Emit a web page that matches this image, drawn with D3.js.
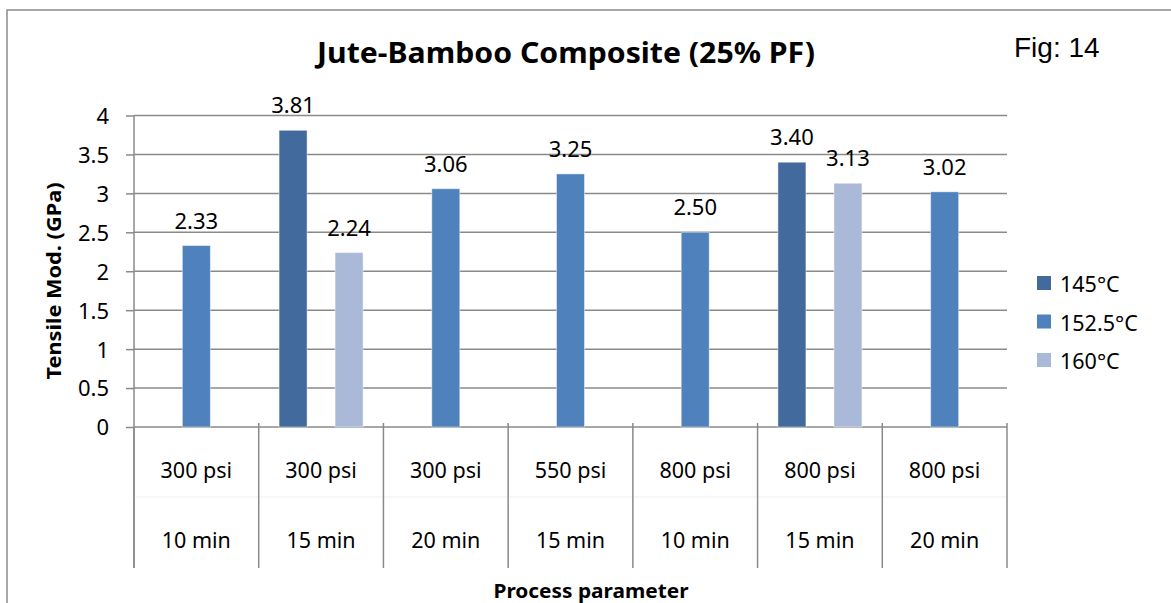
<!DOCTYPE html>
<html>
<head>
<meta charset="utf-8">
<script src="https://cdn.jsdelivr.net/npm/d3@7"></script>
<style>
  html, body { margin: 0; padding: 0; background: #fff; }
  svg { display: block; }
  text { font-family: "Noto Sans", "Open Sans", sans-serif; fill: #000; }
</style>
</head>
<body>
<svg id="chart" width="1171" height="603"></svg>
<script>
// Process parameters (two-line category labels)
const pressures = ["300 psi", "300 psi", "300 psi", "550 psi", "800 psi", "800 psi", "800 psi"];
const durations = ["10 min", "15 min", "20 min", "15 min", "10 min", "15 min", "20 min"];

// Tensile modulus (GPa) per curing temperature; null = not tested
const seriesNames = ["145°C", "152.5°C", "160°C"];
const t145  = [null, 3.81, null, null, null, 3.40, null];
const t1525 = [2.33, null, 3.06, 3.25, 2.50, null, 3.02];
const t160  = [null, 2.24, null, null, null, 3.13, null];

const yTicks = [0, 0.5, 1, 1.5, 2, 2.5, 3, 3.5, 4];
const colors = ["#426A9C", "#4F81BD", "#AAB9D7"];

const svg = d3.select("#chart");
const W = 1171, H = 603;

const plot = { left: 134, right: 1007, top: 115.5, bottom: 427 };
const catBottom = 568;

const categories = pressures.map((p, i) => i);
const seriesData = [t145, t1525, t160];

const x = d3.scaleBand().domain(categories).range([plot.left, plot.right]).padding(0);
const xs = d3.scaleBand().domain(seriesNames).range([-42, 42]).padding(0);
const y = d3.scaleLinear().domain([0, 4]).range([plot.bottom, plot.top]);

// Outer chart frame
svg.append("rect")
  .attr("x", 7).attr("y", 10)
  .attr("width", W + 10).attr("height", H + 10)
  .attr("fill", "none").attr("stroke", "#8a8a8a").attr("stroke-width", 1.5);

// Horizontal gridlines + y axis ticks
const yAxis = d3.axisLeft(y).tickValues(yTicks).tickSize(8).tickFormat(d3.format("~g"));
const gy = svg.append("g").attr("transform", `translate(${plot.left},0)`).call(yAxis);
gy.select(".domain").attr("stroke", "#8a8a8a").attr("stroke-width", 1.5)
  .attr("d", `M0,${plot.top}V${catBottom}`);
gy.selectAll(".tick line").attr("stroke", "#8a8a8a").attr("stroke-width", 1.5);
gy.selectAll(".tick text")
  .attr("x", -25).attr("dy", "0.36em")
  .style("font-size", "22px").style("font-family", "'Noto Sans', sans-serif").attr("fill", "#000");

svg.append("g").selectAll("line.grid")
  .data(yTicks)
  .join("line")
  .attr("x1", plot.left).attr("x2", plot.right)
  .attr("y1", d => y(d)).attr("y2", d => y(d))
  .attr("stroke", "#8a8a8a").attr("stroke-width", 1.5);

// Category table below the axis: faint row separator and vertical dividers
svg.append("line")
  .attr("x1", plot.left).attr("x2", plot.right)
  .attr("y1", 497).attr("y2", 497)
  .attr("stroke", "#efefef").attr("stroke-width", 1);

const dividers = categories.map(c => x(c)).concat([plot.right]);
svg.append("g").selectAll("line.div")
  .data(dividers)
  .join("line")
  .attr("x1", d => d).attr("x2", d => d)
  .attr("y1", (d, i) => i === 0 ? plot.bottom : plot.bottom - 4)
  .attr("y2", catBottom)
  .attr("stroke", "#8a8a8a").attr("stroke-width", 1.5);

// Category labels
const catG = svg.append("g").attr("text-anchor", "middle").style("font-size", "21.5px");
catG.selectAll("text.p")
  .data(pressures)
  .join("text")
  .attr("x", (d, i) => x(i) + x.bandwidth() / 2)
  .attr("y", 478)
  .text(d => d);
catG.selectAll("text.d")
  .data(durations)
  .join("text")
  .attr("x", (d, i) => x(i) + x.bandwidth() / 2)
  .attr("y", 548)
  .text(d => d);

// Bars
const bars = [];
seriesData.forEach((vals, s) => {
  vals.forEach((v, i) => {
    if (v !== null) bars.push({ s, i, v });
  });
});

svg.append("g").selectAll("rect.bar")
  .data(bars)
  .join("rect")
  .attr("x", d => x(d.i) + x.bandwidth() / 2 + xs(seriesNames[d.s]))
  .attr("width", xs.bandwidth())
  .attr("y", d => y(d.v))
  .attr("height", d => y(0) - y(d.v))
  .attr("fill", d => colors[d.s])
  .attr("stroke", "rgba(255,255,255,0.45)").attr("stroke-width", 1);

// Value labels
svg.append("g").attr("text-anchor", "middle").style("font-size", "22px")
  .selectAll("text")
  .data(bars)
  .join("text")
  .attr("x", d => x(d.i) + x.bandwidth() / 2 + xs(seriesNames[d.s]) + xs.bandwidth() / 2)
  .attr("y", d => y(d.v) - 17)
  .text(d => d.v.toFixed(2));

// Title
svg.append("text")
  .attr("x", 566).attr("y", 63)
  .attr("text-anchor", "middle")
  .style("font-size", "28px").style("font-weight", "bold")
  .attr("textLength", 498).attr("lengthAdjust", "spacingAndGlyphs")
  .text("Jute-Bamboo Composite (25% PF)");

svg.append("text")
  .attr("x", 1014).attr("y", 57)
  .style("font-family", "'Liberation Sans', Arial, sans-serif")
  .style("font-size", "28px")
  .text("Fig: 14");

// Axis titles
svg.append("text")
  .attr("transform", "translate(61,281) rotate(-90)")
  .attr("text-anchor", "middle")
  .style("font-size", "20px").style("font-weight", "bold")
  .attr("textLength", 197).attr("lengthAdjust", "spacingAndGlyphs")
  .text("Tensile Mod. (GPa)");

svg.append("text")
  .attr("x", 591).attr("y", 598)
  .attr("text-anchor", "middle")
  .style("font-size", "20px").style("font-weight", "bold")
  .attr("textLength", 195).attr("lengthAdjust", "spacingAndGlyphs")
  .text("Process parameter");

// Legend
const leg = svg.append("g").attr("transform", "translate(1037,276)");
const li = leg.selectAll("g").data(seriesNames).join("g")
  .attr("transform", (d, i) => `translate(0,${i * 38.5})`);
li.append("rect").attr("width", 14).attr("height", 14).attr("fill", (d, i) => colors[i]);
li.append("text").attr("x", 23).attr("y", 16).style("font-size", "21.5px").text(d => d);
</script>
</body>
</html>
